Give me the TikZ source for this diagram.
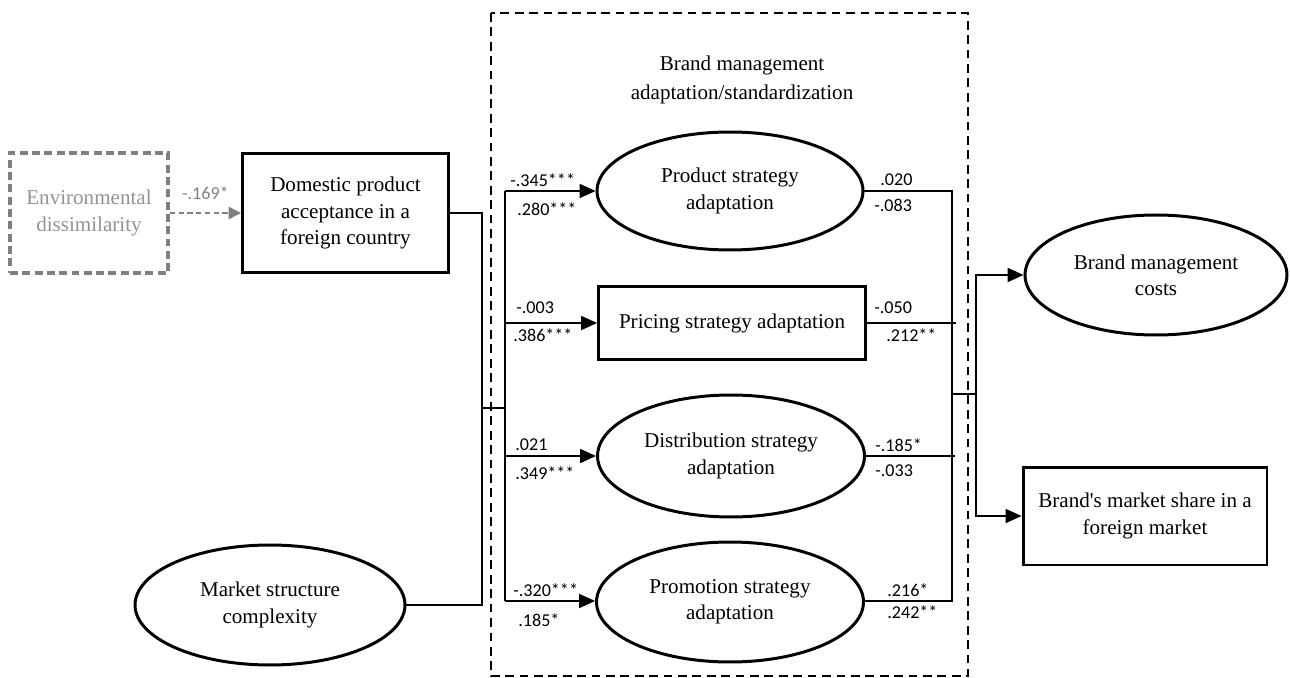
\documentclass[tikz,border=0pt]{standalone}
\usepackage{fontspec}
\setmainfont{Liberation Serif}
\newfontfamily\numfont{Carlito}
\usetikzlibrary{arrows.meta,positioning,calc,shapes.geometric}

\begin{document}
\begin{tikzpicture}[x=0.02cm,y=-0.02cm,>={Triangle[length=9pt,width=8pt]},font=\fontsize{12}{15}\selectfont]
\tikzstyle{b}=[draw,line width=1.7pt,align=center,inner sep=0pt]
\tikzstyle{lat}=[ellipse,draw,line width=1.7pt,align=center,inner sep=0pt]
\tikzstyle{coef}=[font=\numfont\fontsize{10.3}{12}\selectfont,inner sep=0pt,anchor=west]
\tikzstyle{conn}=[line width=0.6pt]
\useasboundingbox (0,0) rectangle (1290,678);
% block of the four adaptation strategies
\draw[line width=1.4pt,dash pattern=on 5pt off 3.2pt] (491,13) rectangle (968,676);
\node[align=center,font=\fontsize{12}{17}\selectfont] (title) at (742,80) {Brand management\\ adaptation/standardization};
\node[b,draw=gray,line width=2pt,dash pattern=on 4.5pt off 2.5pt,text=gray!85,minimum width=3.16cm,minimum height=2.4cm] (env) at (89,213) {Environmental\\ dissimilarity};
\node[b,minimum width=4.12cm,minimum height=2.4cm] (dom) at (345.5,213) {Domestic product\\ acceptance in a\\ foreign country};
\node[lat,minimum width=5.4cm,minimum height=2.4cm] (market) at (270,605) {Market structure\\ complexity};
\node[lat,minimum width=5.32cm,minimum height=2.36cm] (prod) at (730,191) {Product strategy\\ adaptation};
\node[b,minimum width=5.34cm,minimum height=1.46cm] (price) at (732,323) {Pricing strategy adaptation};
\node[lat,minimum width=5.34cm,minimum height=2.44cm] (dist) at (731,456) {Distribution strategy\\ adaptation};
\node[lat,minimum width=5.34cm,minimum height=2.4cm] (promo) at (730,602) {Promotion strategy\\ adaptation};
\node[lat,minimum width=5.24cm,minimum height=2.4cm] (costs) at (1156,275) {Brand management\\ costs};
\node[b,minimum width=4.88cm,minimum height=1.96cm] (share) at (1145,516) {Brand\textquotesingle s market share in a\\ foreign market};
% connectors
\draw[->,gray,line width=0.9pt,dash pattern=on 3pt off 2pt,>={Triangle[length=7pt,width=7pt]}] (env.east) -- (dom.west) node[midway,above=7pt,coef,anchor=south,text=gray] (c0) {-.169*};
\coordinate (jl) at (482,408);
\coordinate (jr) at (505,408);
\coordinate (bt) at (505,191);
\coordinate (bb) at (505,601);
\draw[conn] (dom.east) -| (jl);
\draw[conn] (market.east) -| (jl);
\draw[conn] (jl) -- (jr);
\draw[conn] (bt) -- (bb);
\draw[conn,->] (bt) -- (prod.west);
\draw[conn,->] (price.west -| jr) -- (price.west);
\draw[conn,->] (dist.west -| jr) -- (dist.west);
\draw[conn,->] (bb) -- (promo.west |- bb);
\coordinate (rt) at (952,191);
\coordinate (oj) at (952,394);
\coordinate (oj2) at (976,394);
\draw[conn] (prod.east) -| (952,601) -- (promo.east |- bb);
\draw[conn] (price.east) -- ++(89,0);
\draw[conn] (dist.east) -- ++(89,0);
\draw[conn] (oj) -- (oj2);
\draw[conn,->] (oj2) |- (costs.west);
\draw[conn,->] (oj2) |- (share.west);
% path coefficients
\foreach \x/\y/\t [count=\k] in {510/180/-.345***,517/209/.280***,516/308/-.003,513/335/.386***,515/445/.021,515/473/.349***,513/590/-.320***,518/620/.185*,880/180/.020,874/205/-.083,874/308/-.050,886/335/.212**,875/445/-.185*,875/471/-.033,887/590/.216*,887/612/.242**}
  \node[coef] (c\k) at (\x,\y) {\t};
\end{tikzpicture}
\end{document}
